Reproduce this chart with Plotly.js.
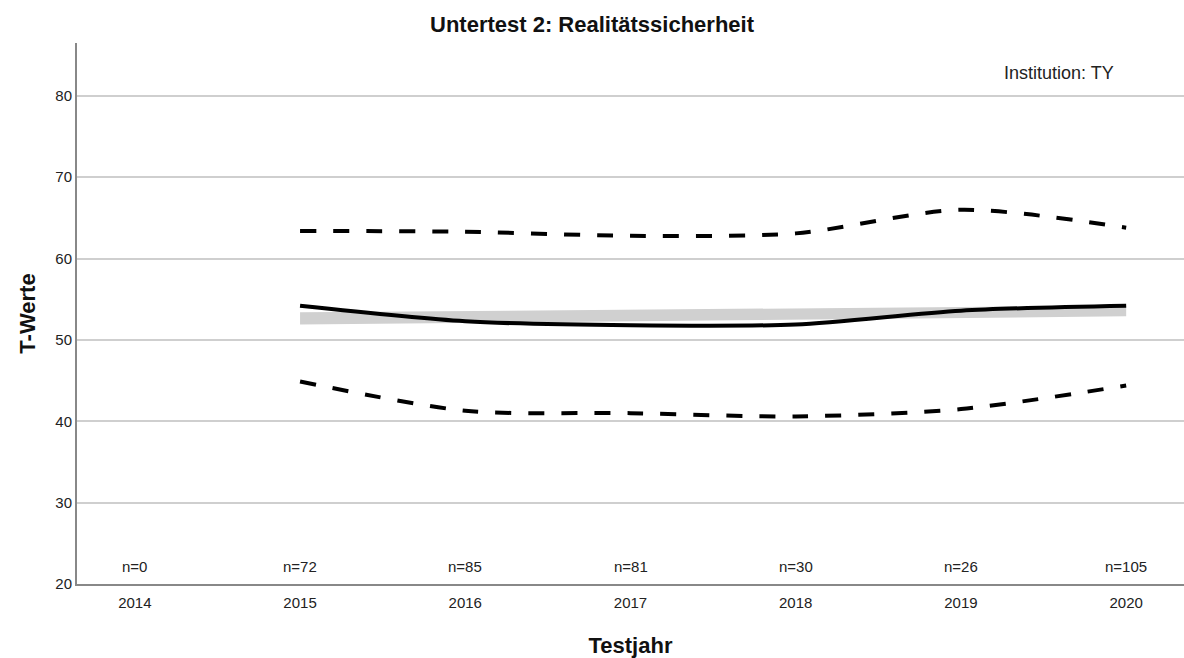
<!DOCTYPE html>
<html>
<head>
<meta charset="utf-8">
<script src="https://cdn.plot.ly/plotly-3.0.1.min.js"></script>
<style>html,body{margin:0;padding:0;background:#fff;}#chart{width:1184px;height:658px;}</style>
</head>
<body>
<div id="chart"></div>
<script>
const years = [2014, 2015, 2016, 2017, 2018, 2019, 2020];
const nLabels = ["n=0", "n=72", "n=85", "n=81", "n=30", "n=26", "n=105"];
const dataYears = [2015, 2016, 2017, 2018, 2019, 2020];
const meanValues = [54.2, 52.3, 51.8, 51.9, 53.6, 54.2];
const upperValues = [63.4, 63.3, 62.8, 63.1, 66.0, 63.8];
const lowerValues = [44.9, 41.3, 41.0, 40.6, 41.5, 44.4];
const bandYears = [2015, 2020];
const bandLower = [51.9, 52.9];
const bandUpper = [53.4, 54.2];
const yTicks = [20, 30, 40, 50, 60, 70, 80];

const font = "Liberation Sans, Arial, sans-serif";

const traces = [
  {x: bandYears, y: bandLower, mode: 'lines', line: {width: 0, color: '#d0d0d0'}, hoverinfo: 'skip', showlegend: false},
  {x: bandYears, y: bandUpper, mode: 'lines', fill: 'tonexty', fillcolor: '#d0d0d0', line: {width: 0, color: '#d0d0d0'}, hoverinfo: 'skip', showlegend: false},
  {x: dataYears, y: upperValues, mode: 'lines', line: {color: '#000', width: 4, dash: '16px,17px', shape: 'spline', smoothing: 0.8}, showlegend: false},
  {x: dataYears, y: lowerValues, mode: 'lines', line: {color: '#000', width: 4, dash: '16px,17px', shape: 'spline', smoothing: 0.8}, showlegend: false},
  {x: dataYears, y: meanValues, mode: 'lines', line: {color: '#000', width: 4, shape: 'spline', smoothing: 0.8}, showlegend: false}
];

const annotations = years.map((yr, i) => ({
  x: yr, y: 22.2, xref: 'x', yref: 'y', text: nLabels[i], showarrow: false,
  font: {family: font, size: 15, color: '#222'}
}));
annotations.push({
  x: 2019.94, y: 82.8, xref: 'x', yref: 'y', text: 'Institution: TY', showarrow: false,
  xanchor: 'right', yanchor: 'middle', font: {family: font, size: 18, color: '#222'}
});

const layout = {
  width: 1184, height: 658,
  margin: {l: 77, r: 0, t: 43, b: 74},
  paper_bgcolor: '#fff', plot_bgcolor: '#fff',
  title: {text: '<b>Untertest 2: Realitätssicherheit</b>', x: 0.5, xanchor: 'center', y: 0.9635, yanchor: 'middle',
          font: {family: font, size: 22, color: '#111'}},
  xaxis: {
    range: [2013.65, 2020.35], tickvals: years, ticktext: years.map(String),
    showgrid: false, zeroline: false, showline: true, linecolor: '#888', linewidth: 2,
    ticks: '', ticklabelstandoff: 4, tickfont: {family: font, size: 15, color: '#222'},
    title: {text: '<b>Testjahr</b>', font: {family: font, size: 22, color: '#111'}, standoff: 28}
  },
  yaxis: {
    range: [20, 86.5], tickvals: yTicks, ticktext: yTicks.map(String),
    showgrid: true, gridcolor: '#cfcfcf', gridwidth: 2, zeroline: false,
    showline: true, linecolor: '#888', linewidth: 2, ticks: '',
    tickfont: {family: font, size: 15, color: '#222'},
    title: {text: '<b>T-Werte</b>', font: {family: font, size: 22, color: '#111'}, standoff: 14}
  },
  annotations: annotations
};

Plotly.newPlot('chart', traces, layout, {displayModeBar: false, staticPlot: true});
</script>
</body>
</html>
